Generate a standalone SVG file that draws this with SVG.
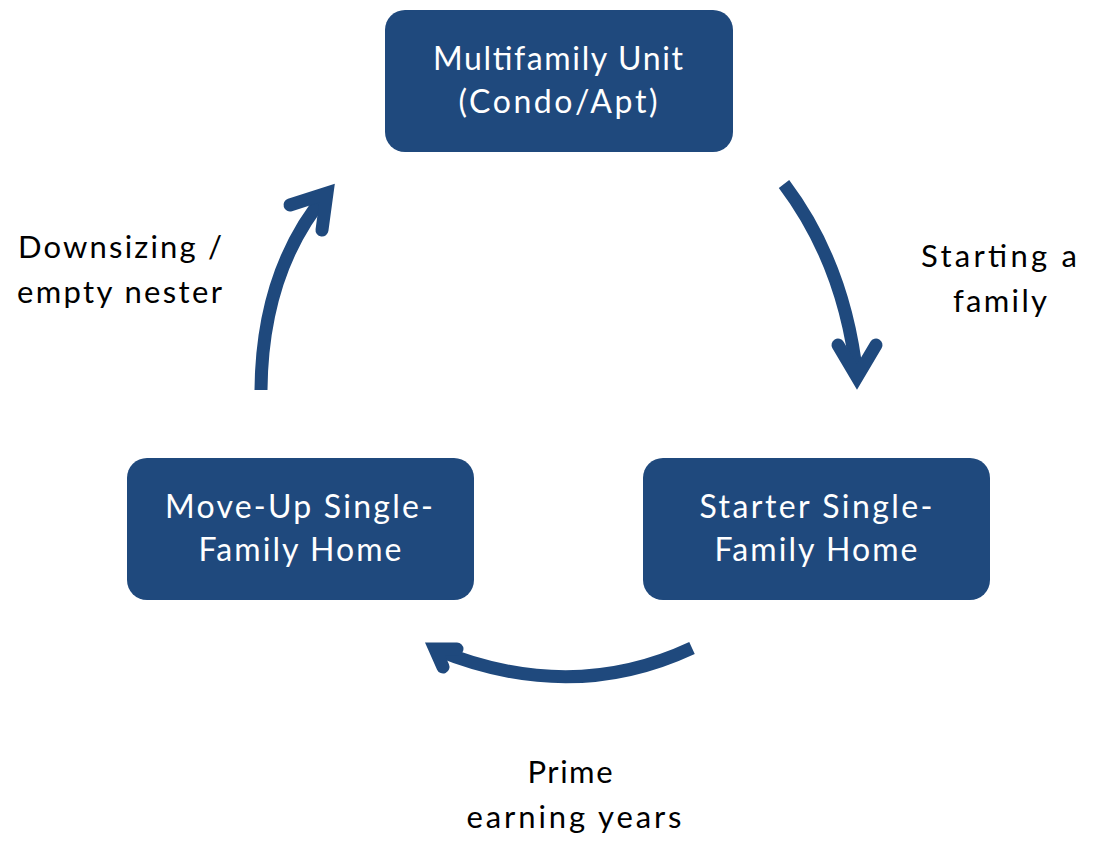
<svg xmlns="http://www.w3.org/2000/svg" width="1099" height="841" viewBox="0 0 1099 841">
<style>
.box{fill:#1F497D;}
.bt{fill:#FFFFFF;font-family:Lato,"Noto Sans",sans-serif;font-size:32px;text-anchor:middle;}
.lbl{fill:#000000;font-family:Lato,"Noto Sans",sans-serif;font-size:31px;}
.shaft{fill:none;stroke:#1F497D;stroke-width:13;stroke-linecap:butt;}
.head{fill:none;stroke:#1F497D;stroke-width:13;stroke-linecap:round;stroke-linejoin:miter;stroke-miterlimit:10;}
</style>
<rect width="1099" height="841" fill="#FFFFFF"/>
<g id="node-multifamily">
<rect class="box" x="385" y="10" width="348" height="142" rx="20"/>
<text class="bt" x="558" y="70" textLength="250" lengthAdjust="spacing">Multifamily Unit</text>
<text class="bt" x="558" y="113" textLength="199" lengthAdjust="spacing">(Condo/Apt)</text>
</g>
<g id="node-starter">
<rect class="box" x="643" y="458" width="347" height="142" rx="20"/>
<text class="bt" x="816" y="518" textLength="233" lengthAdjust="spacing">Starter Single-</text>
<text class="bt" x="816" y="561" textLength="203" lengthAdjust="spacing">Family Home</text>
</g>
<g id="node-moveup">
<rect class="box" x="127" y="458" width="347" height="142" rx="20"/>
<text class="bt" x="299" y="518" textLength="268" lengthAdjust="spacing">Move-Up Single-</text>
<text class="bt" x="300" y="561" textLength="203" lengthAdjust="spacing">Family Home</text>
</g>
<g id="connectors">
<path class="shaft" d="M784,184 Q845,265 857,377"/>
<polyline class="head" points="838,345 857,377 876,345"/>
<path class="shaft" d="M692,648 Q570,705 435,649"/>
<polyline class="head" points="457,649 435,649 443,667"/>
<path class="shaft" d="M261,390 Q262,270 327,193"/>
<polyline class="head" points="290,205 327,193 322,230"/>
</g>
<g id="labels">
<text class="lbl" x="999" y="267" text-anchor="middle" textLength="156" lengthAdjust="spacing">Starting a</text>
<text class="lbl" x="1000" y="312" text-anchor="middle" textLength="94" lengthAdjust="spacing">family</text>
<text class="lbl" x="18" y="258" textLength="204" lengthAdjust="spacing">Downsizing /</text>
<text class="lbl" x="17" y="303" textLength="205" lengthAdjust="spacing">empty nester</text>
<text class="lbl" x="570" y="783" text-anchor="middle" textLength="85" lengthAdjust="spacing">Prime</text>
<text class="lbl" x="574" y="828" text-anchor="middle" textLength="215" lengthAdjust="spacing">earning years</text>
</g>
</svg>
